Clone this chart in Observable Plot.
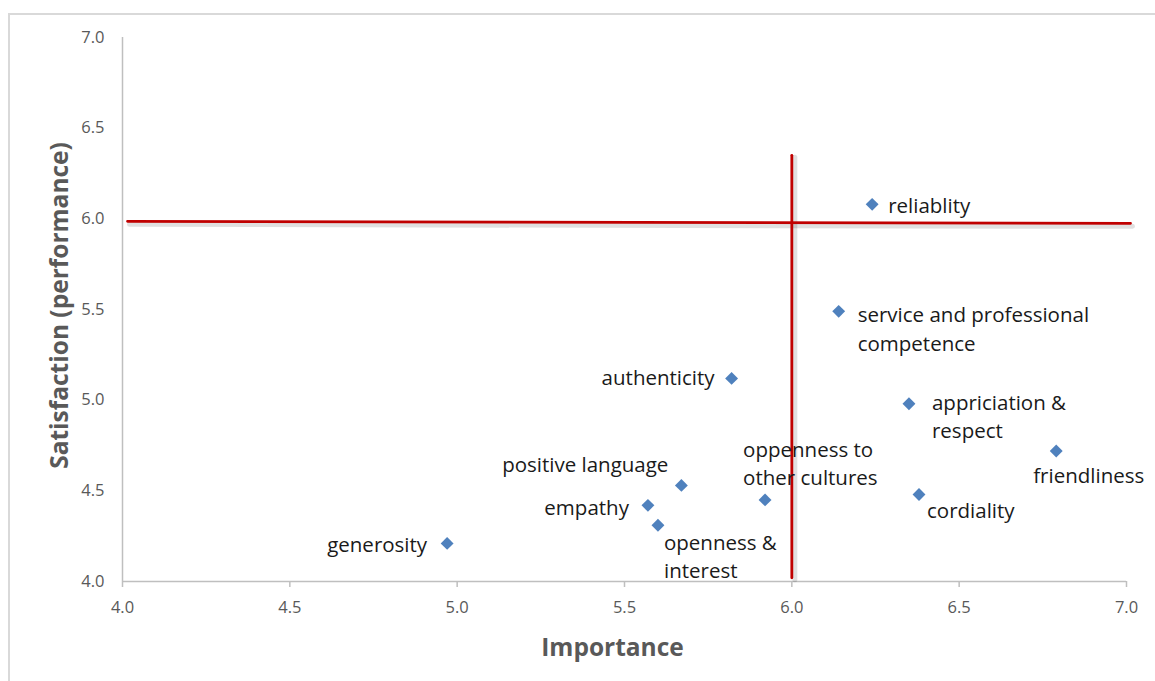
<!DOCTYPE html>
<html>
<head>
<meta charset="utf-8">
<script src="https://cdn.jsdelivr.net/npm/d3@7"></script>
<script src="https://cdn.jsdelivr.net/npm/@observablehq/plot@0.6"></script>
<style>
  html, body { margin: 0; padding: 0; background: #fff; overflow: hidden; }
  #wrap { position: relative; width: 1155px; height: 681px; }
  #frame { position: absolute; left: 8px; top: 13px; width: 1300px; height: 800px; border: 2px solid #d9d9d9; pointer-events: none; }
  #chart { position: absolute; left: 0; top: 0; }
</style>
</head>
<body>
<div id="wrap"><div id="frame"></div><div id="chart"></div></div>
<script>
// ---- data ----
const names = [
  "reliablity",
  "service and professional\ncompetence",
  "authenticity",
  "appriciation &\nrespect",
  "friendliness",
  "cordiality",
  "oppenness to\nother cultures",
  "positive language",
  "empathy",
  "openness &\ninterest",
  "generosity"
];
const importance   = [6.24, 6.14, 5.82, 6.35, 6.79, 6.38, 5.92, 5.67, 5.57, 5.60, 4.97];
const satisfaction = [6.08, 5.49, 5.12, 4.98, 4.72, 4.48, 4.45, 4.53, 4.42, 4.31, 4.21];
const xTicks = [4.0, 4.5, 5.0, 5.5, 6.0, 6.5, 7.0];
const yTicks = [4.0, 4.5, 5.0, 5.5, 6.0, 6.5, 7.0];
// quadrant divider lines (as drawn in the original)
const hLine = [{x: 4.015, y: 5.986}, {x: 7.012, y: 5.975}];
const vLine = [{x: 6.0, y: 4.02}, {x: 6.0, y: 6.35}];
const xTitle = "Importance";
const yTitle = "Satisfaction (performance)";

const data = names.map((name, i) => ({name, x: importance[i], y: satisfaction[i]}));

// ---- label layout (styling, not data) ----
const placement = [
  {textAnchor: "start", dx: 16, dy: 0},
  {textAnchor: "start", dx: 19, dy: 16},
  {textAnchor: "end", dx: -17, dy: -2},
  {textAnchor: "start", dx: 23, dy: 11},
  {textAnchor: "start", dx: -23, dy: 23},
  {textAnchor: "start", dx: 8, dy: 14},
  {textAnchor: "start", dx: -22, dy: -38},
  {textAnchor: "end", dx: -13, dy: -22},
  {textAnchor: "end", dx: -19, dy: 1},
  {textAnchor: "start", dx: 6, dy: 30},
  {textAnchor: "end", dx: -20, dy: 0}
];

const gray = "#595959";
const axisGray = "#bfbfbf";
const fmt = d => d.toFixed(1);

const chart = Plot.plot({
  width: 1155,
  height: 681,
  marginLeft: 122,
  marginRight: 29,
  marginTop: 37,
  marginBottom: 100,
  style: {fontFamily: "'Open Sans', sans-serif", fontSize: "16.5px", background: "transparent", overflow: "visible"},
  x: {domain: [4, 7], axis: null},
  y: {domain: [4, 7], axis: null},
  marks: [
    Plot.ruleX([4], {stroke: axisGray, strokeWidth: 1.5}),
    Plot.ruleY([4], {stroke: axisGray, strokeWidth: 1.5}),
    Plot.axisX(xTicks, {tickSize: 6, tickPadding: 14, tickFormat: fmt, stroke: axisGray, strokeWidth: 1.5, fill: gray, label: null}),
    Plot.axisY(yTicks, {tickSize: 0, tickPadding: 18, tickFormat: fmt, fill: gray, label: null}),
    // shadows
    Plot.line(hLine, {x: "x", y: "y", stroke: "#000", strokeOpacity: 0.12, strokeWidth: 5, dx: 2, dy: 3}),
    Plot.line(vLine, {x: "x", y: "y", stroke: "#000", strokeOpacity: 0.12, strokeWidth: 5, dx: 3, dy: 2}),
    Plot.line(hLine, {x: "x", y: "y", stroke: "#c00000", strokeWidth: 2.8}),
    Plot.line(vLine, {x: "x", y: "y", stroke: "#c00000", strokeWidth: 2.8}),
    Plot.dot(data, {x: "x", y: "y", symbol: "diamond2", r: 5.8, fill: "#4f81bd", stroke: "none"}),
    ...data.map((d, i) => Plot.text([d], {
      x: "x", y: "y", text: "name",
      ...placement[i],
      lineAnchor: "middle",
      lineHeight: 1.38,
      fontSize: 20.5,
      fill: "#1a1a1a"
    })),
    Plot.text([xTitle], {frameAnchor: "bottom", textAnchor: "middle", lineAnchor: "middle", dx: -12, dy: 67, text: d => d, fontSize: 24.5, fontWeight: "bold", fill: gray}),
    Plot.text([yTitle], {frameAnchor: "left", textAnchor: "middle", lineAnchor: "middle", dx: -62, dy: -4, rotate: -90, text: d => d, fontSize: 24.5, fontWeight: "bold", fill: gray})
  ]
});
document.getElementById("chart").appendChild(chart);
</script>
</body>
</html>
